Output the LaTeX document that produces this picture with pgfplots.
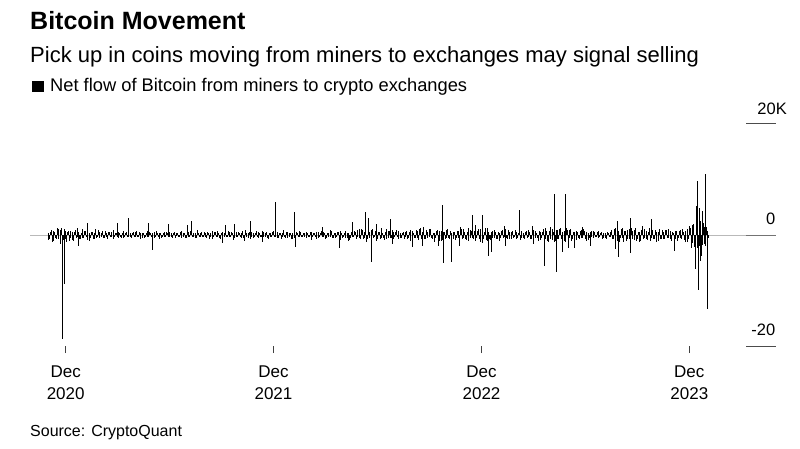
\documentclass[border=0pt]{standalone}
\usepackage{fontspec}
\setmainfont{Liberation Sans}
\usepackage{pgfplots}
\pgfplotsset{compat=1.18}
\begin{document}
\begin{tikzpicture}[x=1pt,y=1pt]
\useasboundingbox (0,0) rectangle (800,448);
% titles
\node[anchor=base west, inner sep=0, font=\fontsize{25}{30}\selectfont\bfseries] at (30,418) {Bitcoin Movement};
\node[anchor=base west, inner sep=0, font=\fontsize{22}{26}\selectfont] at (30,385.7) {Pick up in coins moving from miners to exchanges may signal selling};
\fill[black] (32,356) rectangle (44,367.3);
\node[anchor=base west, inner sep=0, font=\fontsize{18.3}{22}\selectfont] at (50,356) {Net flow of Bitcoin from miners to crypto exchanges};
\node[anchor=base west, inner sep=0, font=\fontsize{16}{20}\selectfont] at (30,12) {Source: CryptoQuant};
\begin{axis}[
  at={(30pt,102pt)}, anchor=south west,
  scale only axis, width=746pt, height=222pt,
  xmin=-62.7, xmax=1247.2, ymin=-20000, ymax=20000,
  axis line style={draw=none},
  xtick={0,365,730,1095}, xticklabels={},
  ytick=\empty,
  tick align=outside, xtick pos=left,
  major tick length=7pt,
  tick style={black!75, line width=0.8pt},
  clip=false,
]
\draw[gray!55, line width=1pt] (rel axis cs:0,0.5) -- (rel axis cs:1,0.5);
\addplot[ycomb, black, line width=0.9pt, mark=none] coordinates {
(-31,400) (-28,-700) (-25,900) (-22,-1100) (-19,600) (-16,-800) (-13,1000) (-10,-500) (-7,1200) (-4,-900)
(-1,700) (2,-1300) (5,800) (8,-600) (11,500) (14,-1000) (17,900) (20,-400) (23,600) (26,-700)
(29,1100) (32,-500) (35,700) (38,-900) (41,400) (44,-600) (47,500) (50,-800) (53,1000) (56,-300)
(59,600) (62,-400) (65,800) (68,-500) (71,300) (74,-700) (77,500) (80,-400) (83,900) (86,-300)
(89,400) (92,-600) (95,300) (98,-500) (101,700) (104,-300) (107,600) (110,-400) (113,300) (116,-500)
(119,500) (122,-300) (125,700) (128,-400) (131,300) (134,-600) (137,400) (140,-300) (143,800) (146,-400)
(149,300) (152,-500) (155,600) (158,-300) (161,400) (164,-700) (167,300) (170,-400) (173,500) (176,-300)
(179,400) (182,-300) (185,300) (188,-500) (191,600) (194,-200) (197,400) (200,-300) (203,700) (206,-400)
(209,300) (212,-600) (215,500) (218,-300) (221,800) (224,-400) (227,300) (230,-500) (233,400) (236,-300)
(239,600) (242,-300) (245,400) (248,-500) (251,300) (254,-400) (257,700) (260,-300) (263,500) (266,-400)
(269,300) (272,-700) (275,500) (278,-300) (281,900) (284,-400) (287,600) (290,-300) (293,400) (296,-600)
(299,500) (302,-300) (305,400) (308,-600) (311,700) (314,-300) (317,300) (320,-500) (323,600) (326,-400)
(329,400) (332,-300) (335,800) (338,-500) (341,300) (344,-400) (347,600) (350,-300) (353,500) (356,-700)
(359,300) (362,-400) (365,700) (368,-300) (371,500) (374,-600) (377,400) (380,-300) (383,900) (386,-500)
(389,600) (392,-400) (395,300) (398,-700) (401,1000) (404,-500) (407,400) (410,-300) (413,600) (416,-400)
(419,300) (422,-500) (425,400) (428,-300) (431,600) (434,-400) (437,300) (440,-700) (443,500) (446,-300)
(449,700) (452,-400) (455,300) (458,-500) (461,400) (464,-300) (467,800) (470,-600) (473,300) (476,-400)
(479,500) (482,-900) (485,400) (488,-300) (491,700) (494,-500) (497,300) (500,-600) (503,800) (506,-400)
(509,600) (512,-300) (515,1000) (518,-700) (521,900) (524,-500) (527,1200) (530,-800) (533,600) (536,-1100)
(539,1100) (542,-400) (545,700) (548,-800) (551,500) (554,-600) (557,400) (560,-900) (563,1000) (566,-500)
(569,800) (572,-600) (575,500) (578,-400) (581,900) (584,-700) (587,400) (590,-500) (593,600) (596,-300)
(599,700) (602,-500) (605,900) (608,-800) (611,400) (614,-600) (617,800) (620,-900) (623,1200) (626,-700)
(629,500) (632,-800) (635,600) (638,-400) (641,1000) (644,-700) (647,300) (650,-500) (653,900) (656,-1100)
(659,700) (662,-900) (665,500) (668,-600) (671,1100) (674,-800) (677,400) (680,-700) (683,600) (686,-500)
(689,800) (692,-700) (695,1000) (698,-600) (701,500) (704,-900) (707,1200) (710,-500) (713,700) (716,-800)
(719,900) (722,-600) (725,1100) (728,-1300) (731,700) (734,-800) (737,1300) (740,-1000) (743,600) (746,-900)
(749,800) (752,-500) (755,600) (758,-700) (761,400) (764,-600) (767,900) (770,-400) (773,1000) (776,-800)
(779,500) (782,-700) (785,800) (788,-400) (791,600) (794,-500) (797,1200) (800,-600) (803,400) (806,-700)
(809,700) (812,-400) (815,500) (818,-800) (821,900) (824,-600) (827,400) (830,-1000) (833,600) (836,-500)
(839,1000) (842,-700) (845,800) (848,-1200) (851,1400) (854,-900) (857,600) (860,-1100) (863,900) (866,-800)
(869,1200) (872,-1000) (875,700) (878,-1300) (881,900) (884,-600) (887,1100) (890,-800) (893,500) (896,-900)
(899,600) (902,-700) (905,900) (908,-500) (911,700) (914,-1000) (917,400) (920,-600) (923,800) (926,-500)
(929,500) (932,-400) (935,700) (938,-300) (941,600) (944,-500) (947,400) (950,-700) (953,300) (956,-400)
(959,900) (962,-700) (965,1300) (968,-1100) (971,800) (974,-600) (977,1200) (980,-900) (983,700) (986,-800)
(989,1000) (992,-600) (995,800) (998,-900) (1001,1300) (1004,-700) (1007,600) (1010,-1000) (1013,1100) (1016,-500)
(1019,700) (1022,-900) (1025,1200) (1028,-600) (1031,900) (1034,-800) (1037,500) (1040,-1100) (1043,1000) (1046,-700)
(1049,600) (1052,-800) (1055,900) (1058,-500) (1061,700) (1064,-1000) (1067,400) (1070,-700) (1073,800) (1076,-600)
(1079,900) (1082,-700) (1085,600) (1088,-1200) (1091,1000) (1094,-800) (1097,1300) (1100,-1500) (1103,2000) (1106,-2500)
(1109,3000) (1112,-2000) (1115,2500) (1118,-1800) (1121,1500) (1124,-2000) (1127,800)
};
\addplot[ycomb, black, line width=0.9pt, mark=none] coordinates {
(-30,-900) (-27,600) (-24,-1200) (-21,800) (-18,-500) (-15,1300) (-12,-700) (-9,900) (-6,-600) (-3,1100)
(0,-800) (3,500) (6,-1100) (9,700) (12,-900) (15,600) (18,-500) (21,1200) (24,-700) (27,400)
(30,-600) (33,800) (36,-400) (39,600) (42,-1000) (45,500) (48,-700) (51,400) (54,-500) (57,900)
(60,-500) (63,300) (66,-600) (69,700) (72,-400) (75,500) (78,-300) (81,600) (84,-800) (87,400)
(90,-300) (93,500) (96,-400) (99,300) (102,-600) (105,400) (108,-300) (111,900) (114,-400) (117,300)
(120,-400) (123,600) (126,-300) (129,500) (132,-700) (135,300) (138,-500) (141,400) (144,-300) (147,600)
(150,-400) (153,300) (156,-500) (159,800) (162,-300) (165,400) (168,-600) (171,300) (174,-400) (177,500)
(180,-300) (183,600) (186,-400) (189,300) (192,-500) (195,400) (198,-300) (201,500) (204,-600) (207,300)
(210,-500) (213,400) (216,-300) (219,700) (222,-400) (225,300) (228,-600) (231,900) (234,-300) (237,400)
(240,-400) (243,500) (246,-300) (249,600) (252,-800) (255,300) (258,-400) (261,500) (264,-300) (267,700)
(270,-500) (273,400) (276,-600) (279,300) (282,-400) (285,700) (288,-300) (291,500) (294,-900) (297,400)
(300,-300) (303,600) (306,-400) (309,300) (312,-500) (315,900) (318,-400) (321,300) (324,-700) (327,500)
(330,-600) (333,400) (336,-300) (339,500) (342,-400) (345,700) (348,-300) (351,400) (354,-500) (357,300)
(360,-400) (363,600) (366,-300) (369,800) (372,-500) (375,400) (378,-700) (381,300) (384,-400) (387,600)
(390,-500) (393,300) (396,-800) (399,400) (402,-600) (405,500) (408,-300) (411,700) (414,-400) (417,300)
(420,-400) (423,600) (426,-300) (429,500) (432,-900) (435,400) (438,-300) (441,600) (444,-500) (447,400)
(450,-300) (453,500) (456,-700) (459,400) (462,-300) (465,900) (468,-500) (471,300) (474,-600) (477,500)
(480,-400) (483,700) (486,-600) (489,300) (492,-500) (495,400) (498,-900) (501,600) (504,-300) (507,700)
(510,-700) (513,900) (516,-500) (519,1100) (522,-800) (525,600) (528,-1300) (531,700) (534,-500) (537,900)
(540,-600) (543,800) (546,-1000) (549,500) (552,-700) (555,1200) (558,-500) (561,600) (564,-800) (567,700)
(570,-500) (573,900) (576,-700) (579,600) (582,-400) (585,800) (588,-600) (591,300) (594,-700) (597,500)
(600,-800) (603,600) (606,-1000) (609,700) (612,-500) (615,900) (618,-600) (621,1100) (624,-800) (627,500)
(630,-700) (633,900) (636,-500) (639,1100) (642,-600) (645,400) (648,-1200) (651,800) (654,-500) (657,700)
(660,-1000) (663,600) (666,-800) (669,900) (672,-500) (675,700) (678,-1100) (681,500) (684,-900) (687,800)
(690,-600) (693,900) (696,-700) (699,1100) (702,-800) (705,500) (708,-1000) (711,900) (714,-600) (717,700)
(720,-1100) (723,800) (726,-700) (729,1000) (732,-1400) (735,600) (738,-900) (741,1200) (744,-700) (747,500)
(750,-600) (753,900) (756,-800) (759,500) (762,-1000) (765,700) (768,-500) (771,800) (774,-600) (777,900)
(780,-800) (783,600) (786,-500) (789,900) (792,-700) (795,400) (798,-900) (801,700) (804,-500) (807,600)
(810,-600) (813,900) (816,-700) (819,500) (822,-1100) (825,800) (828,-600) (831,700) (834,-900) (837,500)
(840,-900) (843,1300) (846,-1000) (849,700) (852,-800) (855,1100) (858,-1200) (861,900) (864,-700) (867,1000)
(870,-800) (873,600) (876,-1100) (879,1200) (882,-700) (885,900) (888,-1000) (891,600) (894,-800) (897,700)
(900,-500) (903,800) (906,-600) (909,1000) (912,-700) (915,500) (918,-900) (921,600) (924,-400) (927,700)
(930,-400) (933,600) (936,-500) (939,400) (942,-700) (945,300) (948,-600) (951,500) (954,-400) (957,600)
(960,-800) (963,1100) (966,-900) (969,700) (972,-1200) (975,1000) (978,-600) (981,800) (984,-1100) (987,900)
(990,-700) (993,1200) (996,-800) (999,900) (1002,-1000) (1005,600) (1008,-1300) (1011,900) (1014,-700) (1017,1000)
(1020,-800) (1023,600) (1026,-1000) (1029,1300) (1032,-700) (1035,900) (1038,-1200) (1041,600) (1044,-800) (1047,900)
(1050,-700) (1053,900) (1056,-600) (1059,1000) (1062,-800) (1065,500) (1068,-900) (1071,700) (1074,-1000) (1077,800)
(1080,-600) (1083,1100) (1086,-900) (1089,700) (1092,-1300) (1095,1600) (1098,-1100) (1101,1800) (1104,-2200) (1107,2600)
(1110,-2400) (1113,2000) (1116,-1700) (1119,2200) (1122,-1600) (1125,1400) (1128,-600)
};
\addplot[ycomb, black, line width=0.9pt, mark=none] coordinates {
(-5,-18700) (-3,-8800) (-10,-1600) (23,-1900) (39,2160) (90,2160) (111,3060) (145,2160) (153,-2700) (181,2000)
(213,1800) (220,2500) (257,-800) (276,-1500) (281,1800) (297,2000) (313,-1100) (325,2500) (345,-1200) (369,5900)
(401,4100) (403,-2200) (450,1400) (480,-2400) (496,-1100) (503,2300) (527,4100) (531,3000) (536,-4900) (545,2000)
(571,2900) (573,-1700) (608,-2200) (627,-1900) (628,1500) (654,-1900) (661,5400) (663,-5100) (677,-4900) (692,-2000)
(693,1500) (714,3600) (720,1800) (731,3600) (742,-3800) (747,-3100) (771,1700) (772,-1900) (796,4500) (820,1600)
(821,-1700) (840,-5600) (859,7300) (861,-6700) (873,-3000) (878,7300) (882,-2300) (894,-2300) (908,1500) (921,-1900)
(966,-2600) (969,2600) (970,-3900) (980,-1300) (991,3100) (992,-3200) (1012,1600) (1028,2800) (1068,-2800) (1098,-2300)
(1100,1300) (1105,-6100) (1107,5200) (1110,9700) (1111,-9900) (1113,4800) (1114,-4700) (1116,-3800) (1118,4400) (1124,11000)
(1126,-13300)
};
\end{axis}
% y gridline segments and labels
\draw[black!70, line width=1pt] (746,324) -- (776,324);
\draw[black!55, line width=1pt] (746,212.3) -- (776,212.3);
\draw[black!70, line width=1pt] (746,102) -- (776,102);
\node[anchor=base east, inner sep=0, font=\fontsize{16.5}{20}\selectfont] at (787,334) {20K};
\node[anchor=base east, inner sep=0, font=\fontsize{16.5}{20}\selectfont] at (775.5,223.7) {0};
\node[anchor=base east, inner sep=0, font=\fontsize{16.5}{20}\selectfont] at (775.5,113) {-20};
% x tick labels
\foreach \px/\yr in {65.7/2020, 273.5/2021, 481.5/2022, 689.3/2023} {
  \node[anchor=base, inner sep=0, font=\fontsize{17}{20}\selectfont] at (\px,71) {Dec};
  \node[anchor=base, inner sep=0, font=\fontsize{17}{20}\selectfont] at (\px,49) {\yr};
}
\end{tikzpicture}
\end{document}
